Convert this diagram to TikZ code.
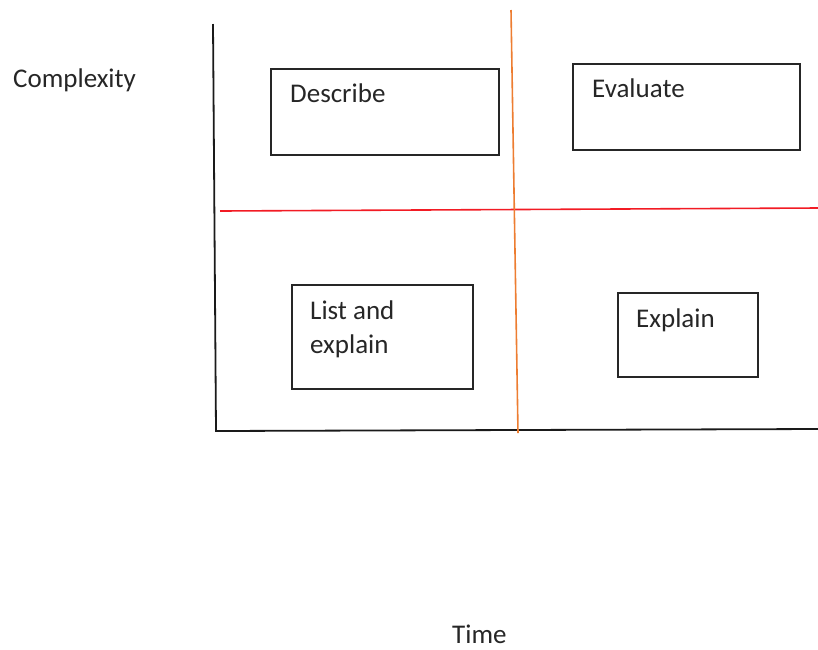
\documentclass[tikz,border=0pt]{standalone}
\usepackage{fontspec}
\setmainfont{Carlito}
\usepackage{tikz}
\usetikzlibrary{positioning, calc}
\definecolor{boxcol}{HTML}{262626}
\definecolor{axiscol}{HTML}{1A1A1A}
\definecolor{splitred}{HTML}{F21B24}
\definecolor{splitorange}{HTML}{ED7D31}
\newcommand{\quadfont}{\fontsize{27}{34}\selectfont}
\tikzset{
  % plain outlined box = one quadrant task
  taskbox/.style={draw=boxcol, line width=1.8pt, rectangle,
                  inner sep=0pt, anchor=north west},
  % text inside a box / axis name
  tasktext/.style={font=\quadfont, text=boxcol, inner sep=0pt,
                   anchor=base west, align=left},
  axis line/.style={draw=axiscol, line width=1.8pt},
  split line/.style={draw=#1, line width=1.6pt},
}

\begin{document}
\begin{tikzpicture}[x=1pt, y=-1pt]
  \useasboundingbox (0,0) rectangle (818,649);
  % axes
  \coordinate (ytop) at (213,24);
  \coordinate (orig) at (216,431);
  \coordinate (xend) at (818,429);
  \draw[axis line] (ytop) -- (orig) -- (xend);
  % quadrant splits
  \coordinate (redl) at (220,211);
  \coordinate (redr) at (818,208);
  \coordinate (orat) at (511,10);
  \coordinate (orab) at (518,433);
  \draw[split line=splitred] (redl) -- (redr);
  \draw[split line=splitorange] (orat) -- (orab);
  % boxes
  \node[taskbox, minimum width=228pt, minimum height=86pt] (describe) at (270,68) {};
  \node[taskbox, minimum width=227pt, minimum height=86pt] (evaluate) at (572,63) {};
  \node[taskbox, minimum width=181pt, minimum height=104pt] (listexp) at (291,284) {};
  \node[taskbox, minimum width=140pt, minimum height=84pt] (explain) at (617,292) {};
  \node[tasktext] (describe-t) at (290,102) {Describe};
  \node[tasktext] (evaluate-t) at (592,97) {Evaluate};
  \node[tasktext] (listexp-t) at (310,353) {List and\\explain};
  \node[tasktext] (explain-t) at (636,327) {Explain};
  % axis names
  \node[tasktext] (complexity) at (13,87) {Complexity};
  \node[tasktext] (time) at (452,643) {Time};
\end{tikzpicture}
\end{document}
